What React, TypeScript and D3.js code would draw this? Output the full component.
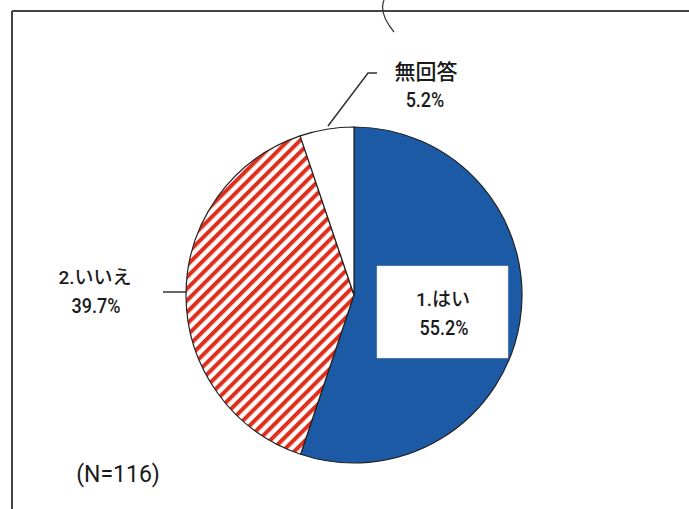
import React from "react";
import * as d3 from "d3";

const categories = ["1.はい", "2.いいえ", "無回答"];
const values = [55.2, 39.7, 5.2];
const valueLabels = ["55.2%", "39.7%", "5.2%"];
const sampleNote = "(N=116)";

const W = 689;
const H = 509;

export default function App() {
  const cx = 354;
  const cy = 295;
  const r = 168;
  const pie = d3.pie<number>().sort(null).value((d) => d)(values);
  const arc = d3.arc<d3.PieArcDatum<number>>().innerRadius(0).outerRadius(r);
  const fills = ["#1d5aa5", "url(#hatch)", "#ffffff"];
  const font = "Roboto, 'Liberation Sans', 'Noto Sans CJK JP', sans-serif";

  const pct = (x: number, y: number, t: string) => (
    <text transform={`translate(${x},${y}) scale(0.9,1)`} fontSize={20}>
      {t}
    </text>
  );

  return (
    <svg
      width={W}
      height={H}
      viewBox={`0 0 ${W} ${H}`}
      style={{ position: "absolute", left: 0, top: 0, background: "#fff" }}
    >
      <defs>
        <pattern
          id="hatch"
          patternUnits="userSpaceOnUse"
          width={8.3}
          height={8.3}
          patternTransform="rotate(-45)"
        >
          <rect width={8.3} height={8.3} fill="#fdfdfd" />
          <rect width={8.3} height={4} fill="#df2f1c" />
        </pattern>
      </defs>
      <rect x={0} y={0} width={W} height={H} fill="#fff" />
      {/* frame */}
      <line x1={12} y1={11} x2={W} y2={11} stroke="#444" strokeWidth={2} />
      <line x1={12} y1={11} x2={12} y2={H} stroke="#444" strokeWidth={2} />
      {/* scan artifact stroke */}
      <path d="M384,0 C380,10 384,20 394,32" fill="none" stroke="#333" strokeWidth={1.2} />
      <g transform={`translate(${cx},${cy})`}>
        {pie.map((p, i) => (
          <path key={categories[i]} d={arc(p) || ""} fill={fills[i]} stroke="#222" strokeWidth={1.2} />
        ))}
      </g>
      {/* leader lines */}
      <polyline points="377,73 368,73 328,126" fill="none" stroke="#333" strokeWidth={1.5} />
      <line x1={163} y1={292} x2={187} y2={292} stroke="#333" strokeWidth={1.5} />
      {/* label box in blue slice */}
      <rect x={377} y={266} width={131} height={92} fill="#fff" stroke="#ddd" strokeWidth={0.5} />
      <g fontFamily={font} fontWeight={500} fill="#1a1a1a" textAnchor="middle">
        <text x={443} y={306} fontSize={19}>{categories[0]}</text>
        {pct(444, 335, valueLabels[0])}
        <text x={95} y={284} fontSize={19}>{categories[1]}</text>
        {pct(96, 313, valueLabels[1])}
        <text x={426} y={79} fontSize={21}>{categories[2]}</text>
        {pct(425, 107, valueLabels[2])}
        <text x={118} y={482} fontSize={23} fontWeight={400}>{sampleNote}</text>
      </g>
    </svg>
  );
}
